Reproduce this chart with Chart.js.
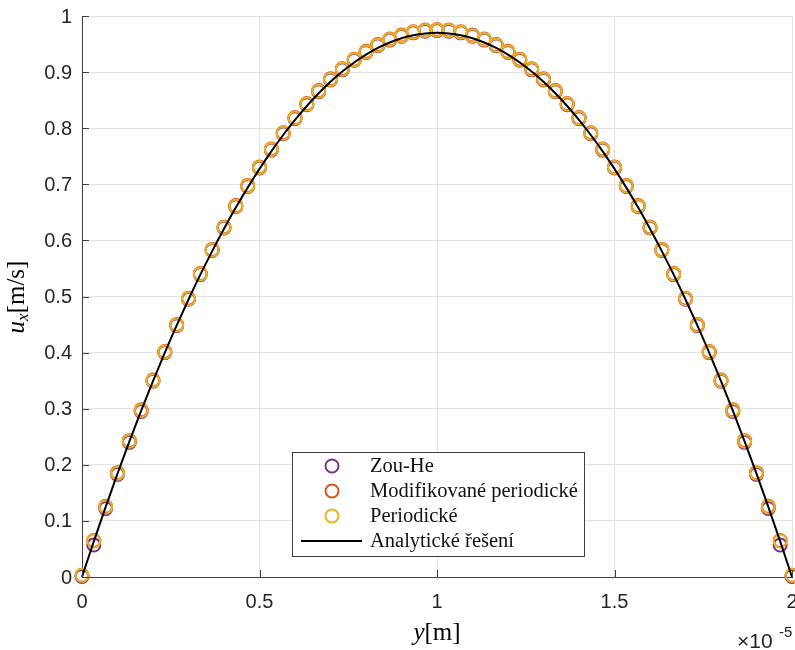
<!DOCTYPE html>
<html>
<head>
<meta charset="utf-8">
<script src="https://cdn.jsdelivr.net/npm/chart.js@4.4.0/dist/chart.umd.min.js"></script>
<style>
  html, body { margin: 0; padding: 0; background: #fff; }
  #wrap { width: 795px; height: 650px; }
</style>
</head>
<body>
<div id="wrap"><canvas id="profile" width="795" height="650"></canvas></div>
<script>
// channel coordinate, in units of 1e-5 m
const positions = [
    0, 0.0333, 0.0667, 0.1, 0.1333, 0.1667, 0.2, 0.2333, 0.2667, 0.3,
    0.3333, 0.3667, 0.4, 0.4333, 0.4667, 0.5, 0.5333, 0.5667, 0.6, 0.6333,
    0.6667, 0.7, 0.7333, 0.7667, 0.8, 0.8333, 0.8667, 0.9, 0.9333, 0.9667,
    1, 1.0333, 1.0667, 1.1, 1.1333, 1.1667, 1.2, 1.2333, 1.2667, 1.3,
    1.3333, 1.3667, 1.4, 1.4333, 1.4667, 1.5, 1.5333, 1.5667, 1.6, 1.6333,
    1.6667, 1.7, 1.7333, 1.7667, 1.8, 1.8333, 1.8667, 1.9, 1.9333, 1.9667, 2
];

// u_x [m/s] for each boundary condition
const zouHe = [
    0.001, 0.057, 0.122, 0.183, 0.240, 0.295, 0.349, 0.400, 0.448, 0.495,
    0.539, 0.582, 0.622, 0.660, 0.696, 0.729, 0.761, 0.790, 0.817, 0.842,
    0.865, 0.886, 0.904, 0.921, 0.935, 0.947, 0.957, 0.964, 0.970, 0.973,
    0.974, 0.973, 0.970, 0.964, 0.957, 0.947, 0.935, 0.921, 0.904, 0.886,
    0.865, 0.842, 0.817, 0.790, 0.761, 0.729, 0.696, 0.660, 0.622, 0.582,
    0.539, 0.495, 0.448, 0.400, 0.349, 0.295, 0.240, 0.183, 0.122, 0.057, 0.001
];
const modPeriodic = [
    0.003, 0.065, 0.126, 0.186, 0.243, 0.298, 0.351, 0.402, 0.450, 0.497,
    0.541, 0.584, 0.624, 0.662, 0.698, 0.731, 0.763, 0.792, 0.819, 0.844,
    0.867, 0.888, 0.906, 0.923, 0.937, 0.949, 0.959, 0.966, 0.972, 0.975,
    0.976, 0.975, 0.972, 0.966, 0.959, 0.949, 0.937, 0.923, 0.906, 0.888,
    0.867, 0.844, 0.819, 0.792, 0.763, 0.731, 0.698, 0.662, 0.624, 0.584,
    0.541, 0.497, 0.450, 0.402, 0.351, 0.298, 0.243, 0.186, 0.126, 0.065, 0.003
];
const periodic = [
    0.003, 0.064, 0.125, 0.185, 0.242, 0.297, 0.350, 0.401, 0.449, 0.496,
    0.540, 0.583, 0.623, 0.661, 0.697, 0.730, 0.762, 0.791, 0.818, 0.843,
    0.866, 0.887, 0.905, 0.922, 0.936, 0.948, 0.958, 0.965, 0.971, 0.974,
    0.975, 0.974, 0.971, 0.965, 0.958, 0.948, 0.936, 0.922, 0.905, 0.887,
    0.866, 0.843, 0.818, 0.791, 0.762, 0.730, 0.697, 0.661, 0.623, 0.583,
    0.540, 0.496, 0.449, 0.401, 0.350, 0.297, 0.242, 0.185, 0.125, 0.064, 0.003
];
const analytic = [
    0, 0.0636, 0.125, 0.1843, 0.2414, 0.2964, 0.3492, 0.3999, 0.4484, 0.4947,
    0.5389, 0.5809, 0.6208, 0.6585, 0.6941, 0.7275, 0.7588, 0.7879, 0.8148, 0.8396,
    0.8622, 0.8827, 0.9010, 0.9172, 0.9312, 0.9431, 0.9528, 0.9603, 0.9657, 0.9689,
    0.97, 0.9689, 0.9657, 0.9603, 0.9528, 0.9431, 0.9312, 0.9172, 0.9010, 0.8827,
    0.8622, 0.8396, 0.8148, 0.7879, 0.7588, 0.7275, 0.6941, 0.6585, 0.6208, 0.5809,
    0.5389, 0.4947, 0.4484, 0.3999, 0.3492, 0.2964, 0.2414, 0.1843, 0.125, 0.0636, 0
];

const xTicks = [0, 0.5, 1, 1.5, 2];
const yTicks = [0, 0.1, 0.2, 0.3, 0.4, 0.5, 0.6, 0.7, 0.8, 0.9, 1];
const seriesNames = ["Zou-He", "Modifikované periodické", "Periodické", "Analytické řešení"];
const seriesColors = ["#7E2F8E", "#D95319", "#EDB120", "#000000"];

const AXIS_COLOR = "#404040";
const TEXT_COLOR = "#262626";
const GRID_COLOR = "#e3e3e3";
const SANS = "'Liberation Sans', Arial, sans-serif";
const SERIF = "'Liberation Serif', 'Times New Roman', serif";

function toPoints(values) {
    return positions.map((x, i) => ({ x, y: values[i] }));
}

function markerSet(idx, values, order) {
    return {
        label: seriesNames[idx],
        data: toPoints(values),
        showLine: false,
        pointStyle: "circle",
        pointRadius: 6.5,
        pointHoverRadius: 6.5,
        pointBorderWidth: 2,
        pointBorderColor: seriesColors[idx],
        pointBackgroundColor: "rgba(0,0,0,0)",
        borderColor: seriesColors[idx],
        clip: false,
        order
    };
}

// inner tick marks, tick labels, axis titles and the boxed legend
const decorations = {
    id: "decorations",
    afterDraw(chart) {
        const { ctx, chartArea, scales } = chart;
        const xs = scales.x;
        const ys = scales.y;

        ctx.save();
        ctx.strokeStyle = AXIS_COLOR;
        ctx.lineWidth = 1;
        ctx.beginPath();
        yTicks.forEach((v) => {
            const py = Math.round(ys.getPixelForValue(v)) + 0.5;
            ctx.moveTo(chartArea.left, py);
            ctx.lineTo(chartArea.left + 7, py);
        });
        xTicks.forEach((v) => {
            const px = Math.round(xs.getPixelForValue(v)) + 0.5;
            ctx.moveTo(px, chartArea.bottom);
            ctx.lineTo(px, chartArea.bottom - 7);
        });
        ctx.stroke();

        ctx.fillStyle = TEXT_COLOR;
        ctx.font = "20px " + SANS;
        ctx.textBaseline = "middle";
        ctx.textAlign = "right";
        yTicks.forEach((v) => {
            ctx.fillText(String(v), chartArea.left - 10, ys.getPixelForValue(v) + 1);
        });
        ctx.textAlign = "center";
        xTicks.forEach((v) => {
            ctx.fillText(String(v), xs.getPixelForValue(v), chartArea.bottom + 25);
        });

        // exponent of the x axis
        ctx.textAlign = "left";
        ctx.textBaseline = "alphabetic";
        ctx.font = "21px " + SANS;
        ctx.fillText("×10", 737, 648);
        ctx.font = "15px " + SANS;
        ctx.fillText("-5", 779, 637);

        // x title: y [m]
        ctx.fillStyle = "#000";
        drawRichLabel(ctx, [
            { text: "y", font: "italic 25px " + SERIF, dy: 0 },
            { text: "[m]", font: "25px " + SERIF, dy: 0 }
        ], (chartArea.left + chartArea.right) / 2, 640);

        // y title: u_x [m/s], rotated
        ctx.save();
        ctx.translate(24, 297);
        ctx.rotate(-Math.PI / 2);
        drawRichLabel(ctx, [
            { text: "u", font: "italic 25px " + SERIF, dy: 0 },
            { text: "x", font: "italic 17px " + SERIF, dy: 4 },
            { text: "[m/s]", font: "25px " + SERIF, dy: 0 }
        ], 0, 0);
        ctx.restore();

        drawLegend(ctx, chart);
        ctx.restore();
    }
};

function drawRichLabel(ctx, parts, cx, baseline) {
    let total = 0;
    parts.forEach((p) => {
        ctx.font = p.font;
        p.w = ctx.measureText(p.text).width;
        total += p.w;
    });
    let x = cx - total / 2;
    ctx.textAlign = "left";
    ctx.textBaseline = "alphabetic";
    parts.forEach((p) => {
        ctx.font = p.font;
        ctx.fillText(p.text, x, baseline + p.dy);
        x += p.w;
    });
}

function drawLegend(ctx, chart) {
    const box = { x: 292.5, y: 452.5, w: 292, h: 104 };
    ctx.fillStyle = "#fff";
    ctx.fillRect(box.x, box.y, box.w, box.h);
    ctx.strokeStyle = AXIS_COLOR;
    ctx.lineWidth = 1;
    ctx.strokeRect(box.x, box.y, box.w, box.h);

    ctx.font = "20.5px " + SERIF;
    ctx.textAlign = "left";
    ctx.textBaseline = "middle";
    chart.data.datasets.forEach((ds, i) => {
        const cy = 466 + i * 25;
        if (ds.showLine) {
            ctx.strokeStyle = ds.borderColor;
            ctx.lineWidth = 2;
            ctx.beginPath();
            ctx.moveTo(301, cy);
            ctx.lineTo(362, cy);
            ctx.stroke();
        } else {
            ctx.strokeStyle = ds.pointBorderColor;
            ctx.lineWidth = 2;
            ctx.beginPath();
            ctx.arc(332, cy, 6.5, 0, Math.PI * 2);
            ctx.stroke();
        }
        ctx.fillStyle = "#111";
        ctx.fillText(ds.label, 370, cy + 1);
    });
}

new Chart(document.getElementById("profile"), {
    type: "scatter",
    data: {
        datasets: [
            markerSet(0, zouHe, 3),
            markerSet(1, modPeriodic, 2),
            markerSet(2, periodic, 1),
            {
                label: seriesNames[3],
                data: toPoints(analytic),
                showLine: true,
                borderColor: seriesColors[3],
                borderWidth: 2,
                pointRadius: 0,
                cubicInterpolationMode: "monotone",
                clip: false,
                order: 0
            }
        ]
    },
    options: {
        responsive: false,
        animation: false,
        devicePixelRatio: 1,
        layout: {
            autoPadding: false,
            padding: { top: 16, right: 3, left: 0, bottom: 0 }
        },
        plugins: {
            legend: { display: false },
            tooltip: { enabled: false }
        },
        scales: {
            x: {
                type: "linear",
                min: 0,
                max: 2,
                ticks: { display: false, stepSize: 0.5 },
                grid: { color: GRID_COLOR, drawTicks: false },
                border: { color: AXIS_COLOR, width: 1 },
                afterFit(scale) { scale.height = 73; }
            },
            y: {
                min: 0,
                max: 1,
                ticks: { display: false, stepSize: 0.1 },
                grid: { color: GRID_COLOR, drawTicks: false },
                border: { color: AXIS_COLOR, width: 1 },
                afterFit(scale) { scale.width = 82; }
            }
        }
    },
    plugins: [decorations]
});
</script>
</body>
</html>
